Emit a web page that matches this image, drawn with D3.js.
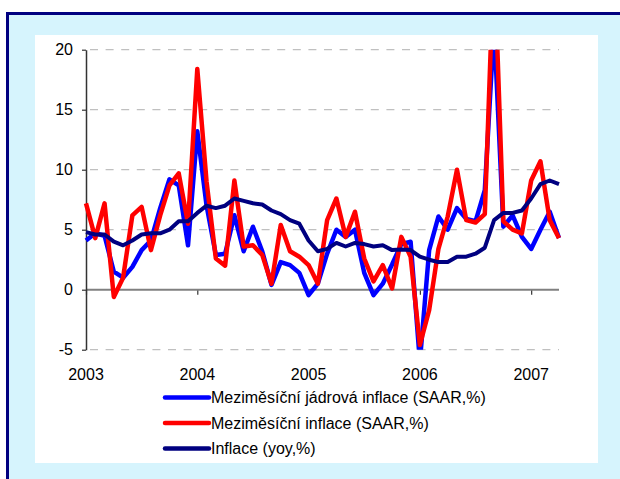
<!DOCTYPE html>
<html>
<head>
<meta charset="utf-8">
<script src="https://cdn.jsdelivr.net/npm/d3@7"></script>
<style>
  body { margin: 0; background: #ffffff; }
  text { font-family: "Liberation Sans", Arial, sans-serif; }
</style>
</head>
<body>
<div id="plot-container"></div>
<script>
// monthly data, Jan 2003 .. Apr 2007
const yearLabels = ["2003", "2004", "2005", "2006", "2007"];
const yTicks = [-5, 0, 5, 10, 15, 20];

const coreSaar = [
    4.1, 4.7, 4.5, 1.5, 1.0, 1.9, 3.3, 4.1, 6.8, 9.2, 8.7, 3.7,
    13.2, 7.0, 2.9, 3.0, 6.2, 3.2, 5.25, 3.2, 0.4, 2.3, 2.05, 1.4,
    -0.45, 0.5, 3.0, 5.0, 4.4, 5.0, 1.4, -0.45, 0.5, 2.1, 3.8, 4.0,
    -6.0, 3.3, 6.1, 5.0, 6.8, 5.9, 5.7, 8.3, 22.0, 5.25, 6.2, 4.4,
    3.4, 5.0, 6.5, 4.3
];

const headlineSaar = [
    7.2, 4.3, 7.2, -0.6, 1.0, 6.2, 6.9, 3.3, 6.2, 8.7, 9.7, 5.5,
    18.4, 9.0, 2.6, 2.0, 9.1, 3.6, 3.7, 2.9, 0.5, 5.4, 3.2, 2.75,
    2.05, 0.5, 5.8, 7.6, 4.4, 6.5, 2.6, 0.7, 2.05, 0.1, 4.4, 2.75,
    -4.6, -1.7, 3.4, 6.1, 10.0, 5.8, 5.6, 6.3, 28.0, 5.7, 5.0, 4.7,
    9.1, 10.7, 5.8, 4.3
];

const inflationYoy = [
    4.8, 4.6, 4.6, 4.0, 3.7, 4.1, 4.6, 4.7, 4.7, 5.0, 5.7, 5.7,
    6.4, 7.0, 6.8, 7.0, 7.6, 7.4, 7.2, 7.1, 6.6, 6.3, 5.8, 5.5,
    4.1, 3.2, 3.4, 3.9, 3.6, 3.9, 3.8, 3.6, 3.7, 3.3, 3.35, 3.3,
    2.75, 2.5, 2.3, 2.3, 2.75, 2.75, 3.0, 3.5, 5.8, 6.4, 6.4, 6.6,
    7.6, 8.8, 9.1, 8.8
];

const seriesNames = [
    "Meziměsíční jádrová inflace (SAAR,%)",
    "Meziměsíční inflace (SAAR,%)",
    "Inflace (yoy,%)"
];
const seriesColors = ["#0000ff", "#ff0000", "#000080"];
const seriesData = [coreSaar, headlineSaar, inflationYoy];

const W = 620, H = 479;

const svg = d3.select("#plot-container")
    .append("svg")
    .attr("width", W)
    .attr("height", H);

// frame
svg.append("rect")
    .attr("x", 7.5).attr("y", 13.5)
    .attr("width", W).attr("height", H)
    .attr("fill", "#d6f4fd")
    .attr("stroke", "#000080")
    .attr("stroke-width", 3);

svg.append("rect")
    .attr("x", 35).attr("y", 35)
    .attr("width", 563).attr("height", 428)
    .attr("fill", "#ffffff");

const xScale = d3.scaleLinear()
    .domain([0, coreSaar.length - 1])
    .range([86, 559]);

const yScale = d3.scaleLinear()
    .domain([-5, 20])
    .range([349.7, 49.7]);

// gridlines
svg.append("g")
    .selectAll("line")
    .data(yTicks.filter(d => d !== 0))
    .enter()
    .append("line")
    .attr("x1", 86).attr("x2", 559)
    .attr("y1", d => yScale(d)).attr("y2", d => yScale(d))
    .attr("stroke", "#c0c0c0")
    .attr("stroke-width", 1.2)
    .attr("stroke-dasharray", "8,7.6")
    .attr("stroke-dashoffset", -4);

// zero line with year ticks
const xAxis = svg.append("g")
    .attr("transform", "translate(0," + yScale(0) + ")")
    .call(d3.axisBottom(xScale)
        .tickValues(yearLabels.map((d, i) => i * 12))
        .tickSize(5)
        .tickFormat(""));
xAxis.select(".domain").remove();
xAxis.selectAll("line").attr("stroke", "#333").attr("stroke-width", 1.2);
svg.append("line")
    .attr("x1", 86).attr("x2", 559)
    .attr("y1", yScale(0)).attr("y2", yScale(0))
    .attr("stroke", "#808080")
    .attr("stroke-width", 2);

// year labels
svg.append("g")
    .selectAll("text")
    .data(yearLabels)
    .enter()
    .append("text")
    .attr("x", (d, i) => xScale(i * 12))
    .attr("y", 380)
    .attr("text-anchor", "middle")
    .attr("font-size", "16px")
    .attr("fill", "#000")
    .text(d => d);

// y axis
const yAxis = svg.append("g")
    .attr("transform", "translate(86,0)")
    .call(d3.axisLeft(yScale)
        .tickValues(yTicks)
        .tickFormat(d => String(d))
        .tickSize(4)
        .tickSizeOuter(0)
        .tickPadding(9));
yAxis.select(".domain").attr("stroke", "#333").attr("stroke-width", 1.5);
yAxis.selectAll("line").attr("stroke", "#333").attr("stroke-width", 1.2);
yAxis.selectAll("text")
    .attr("font-size", "16px")
    .attr("font-family", "Liberation Sans, Arial, sans-serif")
    .attr("fill", "#000");

// lines, clipped to plot area
svg.append("clipPath")
    .attr("id", "plot-clip")
    .append("rect")
    .attr("x", 80).attr("y", yScale(20))
    .attr("width", 490).attr("height", yScale(-5) - yScale(20));

const line = d3.line()
    .x((d, i) => xScale(i))
    .y(d => yScale(d));

svg.append("g")
    .attr("clip-path", "url(#plot-clip)")
    .selectAll("path")
    .data(seriesData)
    .enter()
    .append("path")
    .attr("d", d => line(d))
    .attr("fill", "none")
    .attr("stroke", (d, i) => seriesColors[i])
    .attr("stroke-width", (d, i) => i === 2 ? 4 : 4.5)
    .attr("stroke-linejoin", "round");

// legend
const legend = svg.append("g")
    .selectAll("g")
    .data(seriesNames)
    .enter()
    .append("g")
    .attr("transform", (d, i) => "translate(165," + (397.5 + i * 25.5) + ")");

legend.append("line")
    .attr("x1", 0).attr("x2", 44)
    .attr("stroke", (d, i) => seriesColors[i])
    .attr("stroke-width", 4.5)
    .attr("stroke-linecap", "round");

legend.append("text")
    .attr("x", 46)
    .attr("dy", "0.36em")
    .attr("font-size", "16px")
    .attr("fill", "#000")
    .text(d => d);
</script>
</body>
</html>
